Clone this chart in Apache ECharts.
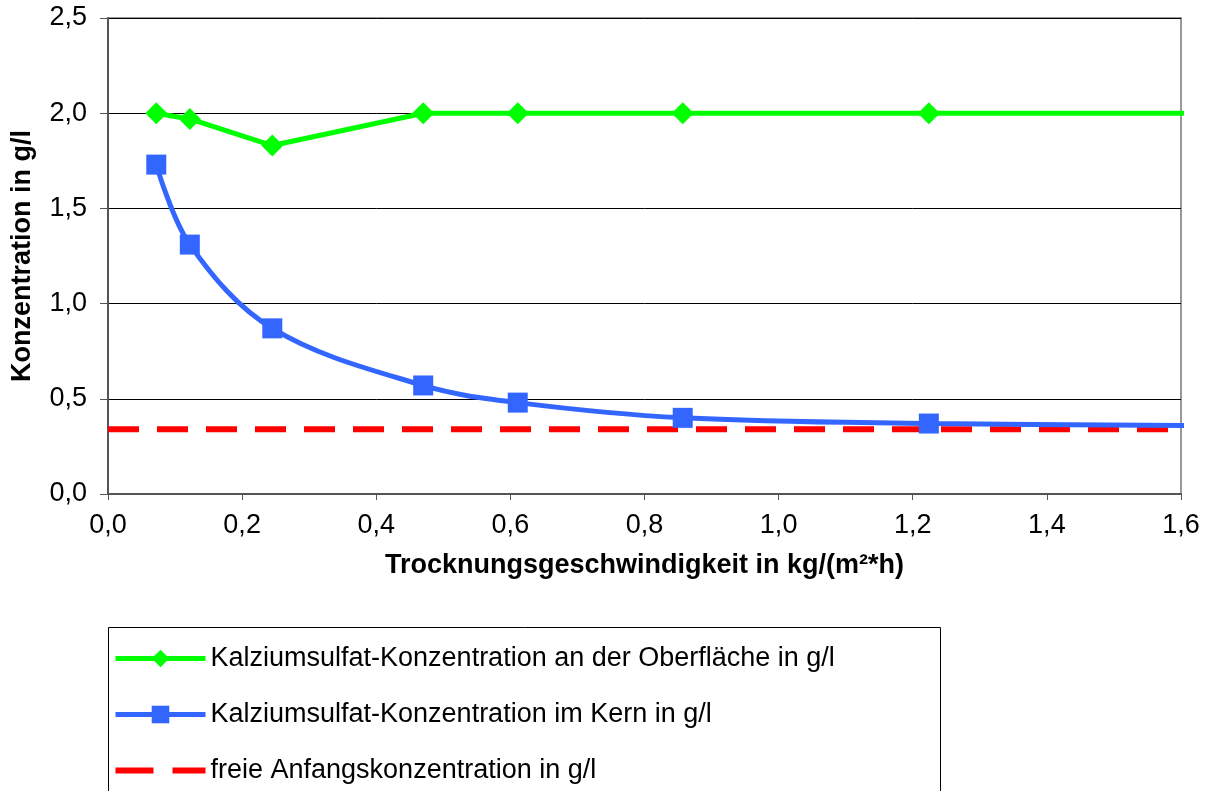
<!DOCTYPE html>
<html>
<head>
<meta charset="utf-8">
<script src="https://cdn.jsdelivr.net/npm/echarts@6/dist/echarts.min.js"></script>
<style>html,body{margin:0;padding:0;background:#fff}#c{width:1211px;height:791px}</style>
</head>
<body>
<div id="c"></div>
<script>
var xValues = [0.072, 0.122, 0.245, 0.47, 0.611, 0.857, 1.224, 1.615];
var surface = [2.0, 1.97, 1.83, 2.0, 2.0, 2.0, 2.0, 2.0];
var core = [1.73, 1.31, 0.87, 0.57, 0.48, 0.40, 0.37, 0.36];
var initialX = [0, 1.615];
var initialY = [0.34, 0.34];
var seriesNames = [
  'Kalziumsulfat-Konzentration an der Oberfläche in g/l',
  'Kalziumsulfat-Konzentration im Kern in g/l',
  'freie Anfangskonzentration in g/l'
];

function pts(xs, ys) {
  return xs.map(function (x, i) {
    var p = { value: [x, ys[i]] };
    if (x > 1.6) p.symbol = 'none';
    return p;
  });
}
var font = 'Liberation Sans';
var fs = 27;
var comma = function (v) { return v.toFixed(1).replace('.', ','); };

var chart = echarts.init(document.getElementById('c'));
chart.setOption({
  animation: false,
  backgroundColor: '#fff',
  textStyle: { fontFamily: font },
  grid: { left: 108, right: 30, top: 18, bottom: 297, show: true, borderColor: '#999', borderWidth: 2 },
  xAxis: {
    type: 'value', min: 0, max: 1.6, interval: 0.2,
    axisLine: { lineStyle: { color: '#555', width: 2 } },
    axisTick: { show: true, length: 6, lineStyle: { color: '#555' } },
    axisLabel: { color: '#000', fontSize: fs, fontFamily: font, margin: 18, formatter: comma },
    splitLine: { show: false },
    name: 'Trocknungsgeschwindigkeit in kg/(m²*h)',
    nameLocation: 'middle', nameGap: 58,
    nameTextStyle: { color: '#000', fontSize: fs, fontWeight: 'bold', fontFamily: font }
  },
  yAxis: {
    type: 'value', min: 0, max: 2.5, interval: 0.5,
    axisLine: { show: true, lineStyle: { color: '#555', width: 2 } },
    axisTick: { show: true, length: 8, lineStyle: { color: '#555' } },
    axisLabel: { color: '#000', fontSize: fs, fontFamily: font, margin: 21, formatter: comma },
    splitLine: { show: true, lineStyle: { color: '#000', width: 1 } },
    name: 'Konzentration in g/l',
    nameLocation: 'middle', nameGap: 72, nameRotate: 90,
    nameTextStyle: { color: '#000', fontSize: fs, fontWeight: 'bold', fontFamily: font }
  },
  legend: {
    orient: 'vertical', left: 113, top: 645, padding: 0,
    itemWidth: 90, itemHeight: 22, itemGap: 29,
    textStyle: { color: '#000', fontSize: fs, fontFamily: font },
    lineStyle: { width: 5 },
    data: [
      { name: seriesNames[0] },
      { name: seriesNames[1] },
      { name: seriesNames[2], icon: 'path://M0,0 M0,8h38v6h-38z M57,8h33v6h-33z M90,22' }
    ]
  },
  graphic: [{
    type: 'rect', left: 108, top: 627, silent: true, z: -1,
    shape: { width: 832, height: 180 },
    style: { fill: '#fff', stroke: '#000', lineWidth: 1 }
  }],
  series: [
    {
      name: seriesNames[0], type: 'line', clip: false, z: 3,
      data: pts(xValues, surface),
      symbol: 'diamond', symbolSize: 22,
      lineStyle: { color: '#00FF00', width: 5 },
      itemStyle: { color: '#00FF00' }
    },
    {
      name: seriesNames[1], type: 'line', clip: false, z: 3,
      data: pts(xValues, core), smooth: 0.35,
      symbol: 'rect', symbolSize: 20,
      lineStyle: { color: '#3366FF', width: 5 },
      itemStyle: { color: '#3366FF' }
    },
    {
      name: seriesNames[2], type: 'line', clip: false, z: 2,
      data: pts(initialX, initialY), symbol: 'none',
      lineStyle: { color: '#FF0000', width: 6, type: [31, 18] },
      itemStyle: { color: '#FF0000' }
    }
  ]
});
</script>
</body>
</html>
